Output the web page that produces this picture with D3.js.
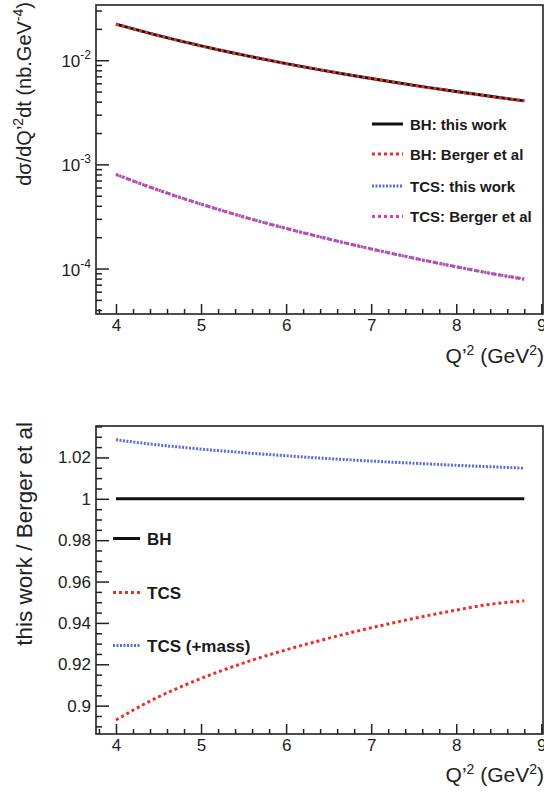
<!DOCTYPE html>
<html>
<head>
<meta charset="utf-8">
<script src="https://cdn.jsdelivr.net/npm/d3@7"></script>
<style>
  body { margin: 0; background: #fff; }
  svg { display: block; font-family: "Liberation Sans", Arial, Helvetica, sans-serif; }
</style>
</head>
<body>
<svg id="chart" width="544" height="796"></svg>
<script>
// values
const qValues = [4.0, 4.4, 4.8, 5.2, 5.6, 6.0, 6.4, 6.8, 7.2, 7.6, 8.0, 8.4, 8.8];

const bhThisWork = [0.0222, 0.0181, 0.0150, 0.01263, 0.01077, 0.00928, 0.00808, 0.00709, 0.00627, 0.00558, 0.00500, 0.00450, 0.00407];
const bhBerger   = [0.0222, 0.0181, 0.0150, 0.01263, 0.01077, 0.00928, 0.00808, 0.00709, 0.00627, 0.00558, 0.00500, 0.00450, 0.00407];
const tcsThisWork = [8.0e-4, 6.05e-4, 4.68e-4, 3.70e-4, 2.97e-4, 2.43e-4, 2.01e-4, 1.68e-4, 1.42e-4, 1.21e-4, 1.04e-4, 9.0e-5, 7.9e-5];
const tcsBerger   = [8.0e-4, 6.05e-4, 4.68e-4, 3.70e-4, 2.97e-4, 2.43e-4, 2.01e-4, 1.68e-4, 1.42e-4, 1.21e-4, 1.04e-4, 9.0e-5, 7.9e-5];

const ratioBH      = [1, 1, 1, 1, 1, 1, 1, 1, 1, 1, 1, 1, 1];
const ratioTCS     = [0.8931, 0.9022, 0.9098, 0.9163, 0.9220, 0.9270, 0.9315, 0.9357, 0.9395, 0.9430, 0.9462, 0.9490, 0.9507];
const ratioTCSMass = [1.0285, 1.0265, 1.0248, 1.0233, 1.0220, 1.0208, 1.0197, 1.0187, 1.0178, 1.0170, 1.0162, 1.0155, 1.0148];

const xTicks = [4, 5, 6, 7, 8, 9];
const logTicks = [1e-4, 1e-3, 1e-2];
const logTickExp = ["-4", "-3", "-2"];
const ratioTicks = [0.9, 0.92, 0.94, 0.96, 0.98, 1, 1.02];
const ratioTickLabels = ["0.9", "0.92", "0.94", "0.96", "0.98", "1", "1.02"];

const topLegend = ["BH: this work", "BH: Berger et al", "TCS: this work", "TCS: Berger et al"];
const botLegend = ["BH", "TCS", "TCS (+mass)"];

const svg = d3.select("#chart");

const left = 96, right = 543;
const topPanel = { top: 5, bottom: 314 };
const botPanel = { top: 426, bottom: 734 };

const x = d3.scaleLinear().domain([3.765, 9.02]).range([left, right]);
const yTop = d3.scaleLog().domain([3.66e-5, 0.0339]).range([topPanel.bottom, topPanel.top]);
const yBot = d3.scaleLinear().domain([0.8863, 1.0352]).range([botPanel.bottom, botPanel.top]);

const xMinor = d3.range(3.8, 9.01, 0.2).map(v => +v.toFixed(1)).filter(v => !xTicks.includes(v));

const styles = {
  bhThis:   { stroke: "#111", width: 3, dash: null },
  bhBerger: { stroke: "#e8302a", width: 3, dash: "3,3" },
  tcsThis:  { stroke: "#5a6cd8", width: 3, dash: "2,1.5" },
  tcsBerger:{ stroke: "#e23c9c", width: 3, dash: "3,3" }
};

function drawXAxis(bottom) {
  const gMaj = svg.append("g").attr("transform", `translate(0,${bottom})`)
    .call(d3.axisBottom(x).tickValues(xTicks).tickSize(-10).tickPadding(5).tickFormat(d3.format("d")));
  const gMin = svg.append("g").attr("transform", `translate(0,${bottom})`)
    .call(d3.axisBottom(x).tickValues(xMinor).tickSize(-5).tickFormat(""));
  [gMaj, gMin].forEach(g => {
    g.select(".domain").remove();
    g.selectAll("line").attr("stroke", "#222").attr("stroke-width", 1.5);
  });
  gMaj.selectAll("text").attr("font-size", 17).attr("fill", "#222")
    .attr("font-family", "Liberation Sans, Arial, sans-serif");
}

function drawFrame(p) {
  svg.append("rect")
    .attr("x", left).attr("y", p.top)
    .attr("width", right - left).attr("height", p.bottom - p.top)
    .attr("fill", "none").attr("stroke", "#222").attr("stroke-width", 1.6);
}

function xTitle(baseline) {
  const t = svg.append("text")
    .attr("x", right + 1).attr("y", baseline)
    .attr("text-anchor", "end")
    .attr("font-size", 21).attr("fill", "#222");
  t.append("tspan").text("Q’");
  t.append("tspan").attr("dy", -8).attr("font-size", 14).text("2");
  t.append("tspan").attr("dy", 8).text(" (GeV");
  t.append("tspan").attr("dy", -8).attr("font-size", 14).text("2");
  t.append("tspan").attr("dy", 8).text(")");
}

// ---------- top panel ----------
drawXAxis(topPanel.bottom);

// log y ticks
const logMinor = [];
[-5, -4, -3, -2].forEach(e => {
  for (let m = 2; m <= 9; m++) {
    const v = m * Math.pow(10, e);
    if (v > yTop.domain()[0] && v < yTop.domain()[1]) logMinor.push(v);
  }
});
const gyMaj = svg.append("g").attr("transform", `translate(${left},0)`)
  .call(d3.axisLeft(yTop).tickValues(logTicks).tickSize(-13).tickFormat(""));
const gyMin = svg.append("g").attr("transform", `translate(${left},0)`)
  .call(d3.axisLeft(yTop).tickValues(logMinor).tickSize(-6).tickFormat(""));
[gyMaj, gyMin].forEach(g => {
  g.select(".domain").remove();
  g.selectAll("line").attr("stroke", "#222").attr("stroke-width", 1.5);
});

logTicks.forEach((v, i) => {
  const t = svg.append("text")
    .attr("x", 91).attr("y", yTop(v) + 7)
    .attr("text-anchor", "end")
    .attr("font-size", 17).attr("fill", "#222");
  t.append("tspan").text("10");
  t.append("tspan").attr("dy", -8).attr("font-size", 12).text(logTickExp[i]);
});

drawFrame(topPanel);

const lineTop = d3.line()
  .x((d, i) => x(qValues[i]))
  .y(d => yTop(d))
  .curve(d3.curveMonotoneX);

[[bhThisWork, styles.bhThis], [bhBerger, styles.bhBerger],
 [tcsThisWork, styles.tcsThis], [tcsBerger, styles.tcsBerger]].forEach(([vals, s]) => {
  svg.append("path")
    .datum(vals)
    .attr("d", lineTop)
    .attr("fill", "none")
    .attr("stroke", s.stroke)
    .attr("stroke-width", s.width)
    .attr("stroke-dasharray", s.dash);
});

// top legend
const topLegStyles = [styles.bhThis, styles.bhBerger, styles.tcsThis, styles.tcsBerger];
const topLegY = [124, 154, 186, 216.5];
topLegend.forEach((label, i) => {
  const s = topLegStyles[i];
  svg.append("line")
    .attr("x1", 372).attr("x2", 403)
    .attr("y1", topLegY[i]).attr("y2", topLegY[i])
    .attr("stroke", s.stroke).attr("stroke-width", s.width)
    .attr("stroke-dasharray", s.dash);
  svg.append("text")
    .attr("x", 410).attr("y", topLegY[i] + 5.5)
    .attr("font-size", 15).attr("font-weight", "bold").attr("fill", "#1a1a1a")
    .text(label);
});

// y title top
const yt1 = svg.append("text")
  .attr("transform", `translate(31,${topPanel.top - 3}) rotate(-90)`)
  .attr("text-anchor", "end")
  .attr("font-size", 20).attr("fill", "#222");
yt1.append("tspan").text("dσ/dQ’");
yt1.append("tspan").attr("dy", -8).attr("font-size", 14).text("2");
yt1.append("tspan").attr("dy", 8).text("dt (nb.GeV");
yt1.append("tspan").attr("dy", -8).attr("font-size", 14).text("-4");
yt1.append("tspan").attr("dy", 8).text(")");

xTitle(363);

// ---------- bottom panel ----------
drawXAxis(botPanel.bottom);

const ratioMinor = d3.range(0.89, 1.0351, 0.005).map(v => +v.toFixed(3))
  .filter(v => !ratioTicks.some(t => Math.abs(t - v) < 1e-6));
const gbMaj = svg.append("g").attr("transform", `translate(${left},0)`)
  .call(d3.axisLeft(yBot).tickValues(ratioTicks).tickSize(-13).tickFormat(""));
const gbMin = svg.append("g").attr("transform", `translate(${left},0)`)
  .call(d3.axisLeft(yBot).tickValues(ratioMinor).tickSize(-6).tickFormat(""));
[gbMaj, gbMin].forEach(g => {
  g.select(".domain").remove();
  g.selectAll("line").attr("stroke", "#222").attr("stroke-width", 1.5);
});
ratioTicks.forEach((v, i) => {
  svg.append("text")
    .attr("x", 91).attr("y", yBot(v) + 6)
    .attr("text-anchor", "end")
    .attr("font-size", 17).attr("fill", "#222")
    .text(ratioTickLabels[i]);
});

drawFrame(botPanel);

const lineBot = d3.line()
  .x((d, i) => x(qValues[i]))
  .y(d => yBot(d))
  .curve(d3.curveMonotoneX);

const botStyles = [styles.bhThis, styles.bhBerger, styles.tcsThis];
[ratioBH, ratioTCS, ratioTCSMass].forEach((vals, i) => {
  const s = botStyles[i];
  svg.append("path")
    .datum(vals)
    .attr("d", lineBot)
    .attr("fill", "none")
    .attr("stroke", s.stroke)
    .attr("stroke-width", s.width)
    .attr("stroke-dasharray", s.dash);
});

const botLegY = [538.5, 592.5, 645.5];
botLegend.forEach((label, i) => {
  const s = botStyles[i];
  svg.append("line")
    .attr("x1", 113).attr("x2", 140)
    .attr("y1", botLegY[i]).attr("y2", botLegY[i])
    .attr("stroke", s.stroke).attr("stroke-width", s.width)
    .attr("stroke-dasharray", s.dash);
  svg.append("text")
    .attr("x", 147).attr("y", botLegY[i] + 6.5)
    .attr("font-size", 17).attr("font-weight", "bold").attr("fill", "#1a1a1a")
    .text(label);
});

svg.append("text")
  .attr("transform", `translate(32,${botPanel.top - 4}) rotate(-90)`)
  .attr("text-anchor", "end")
  .attr("font-size", 22.5).attr("fill", "#222")
  .text("this work / Berger et al");

xTitle(782);
</script>
</body>
</html>
